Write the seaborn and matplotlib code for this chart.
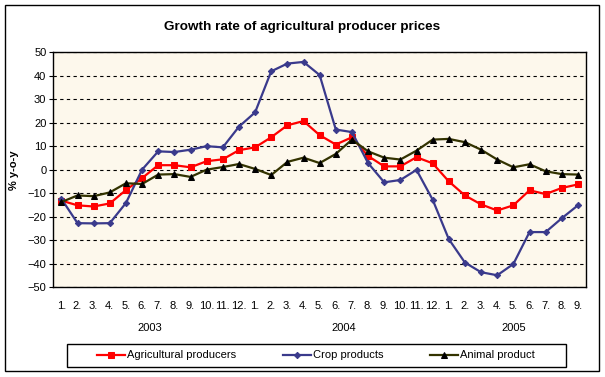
import pandas as pd
import numpy as np
import matplotlib.pyplot as plt
import matplotlib.transforms as mtransforms
from matplotlib.patches import Rectangle
import seaborn as sns

# Monthly data Jan 2003 - Sep 2005, growth rate % y-o-y
months = [f"{m}." for m in range(1, 13)] * 2 + [f"{m}." for m in range(1, 10)]
years = ["2003", "2004", "2005"]
year_centers = [5.5, 17.5, 28]

agri = [-13.2, -15.2, -15.7, -14.4, -8.7, -3.6, 1.9, 1.9, 1.0, 3.6, 4.4, 8.3,
        9.5, 13.8, 18.9, 20.7, 14.7, 10.7, 13.8, 5.8, 1.4, 1.4, 5.3, 2.7,
        -5.0, -11.0, -14.8, -17.4, -15.2, -8.8, -10.4, -7.8, -6.3]
crop = [-12.4, -22.8, -22.9, -22.8, -14.2, 0.0, 7.8, 7.5, 8.5, 10.0, 9.5, 18.3,
        24.4, 41.9, 45.2, 45.9, 40.3, 17.1, 16.0, 2.8, -5.4, -4.4, -0.1, -12.8,
        -29.6, -39.6, -43.7, -45.0, -40.2, -26.6, -26.6, -20.7, -15.2]
animal = [-13.8, -11.0, -11.3, -9.7, -5.8, -6.1, -2.1, -1.9, -3.1, 0.0, 1.1, 2.4,
          0.3, -2.3, 3.3, 5.1, 2.8, 6.7, 12.8, 7.8, 5.1, 4.3, 8.1, 12.8,
          13.1, 11.7, 8.5, 4.3, 1.0, 2.3, -0.7, -1.9, -2.1]

idx = np.arange(len(months))
df = pd.DataFrame({"i": idx, "agri": agri, "crop": crop, "animal": animal})

plt.rcParams['font.family'] = ['Liberation Sans', 'DejaVu Sans']

fig = plt.figure(figsize=(6.05, 3.77), dpi=100)
ax = fig.add_axes([53.3 / 605, 1 - 287 / 377, (586 - 53.3) / 605, (287 - 52.3) / 377])
ax.set_facecolor('#FDF8EC')

# series: label, column, color, marker, marker color, size
series = [
    ("Agricultural producers", "agri", "#FF0000", "s", "#FF0000", 4.5),
    ("Crop products", "crop", "#3A3A8C", "D", "#3A3A8C", 3.2),
    ("Animal product", "animal", "#333300", "^", "#000000", 5.0),
]
for label, col, color, mk, mcol, ms in series:
    sns.lineplot(data=df, x="i", y=col, ax=ax, color=color, linewidth=1.6,
                 marker=mk, markersize=ms, markerfacecolor=mcol,
                 markeredgecolor=mcol, label=label, sort=False)

ax.set_xlim(-0.5, 32.5)
ax.set_ylim(-50, 50)
ax.set_yticks(range(-50, 51, 10))
ax.set_xticks(idx)
ax.set_xticklabels(months)
ax.tick_params(axis='x', length=0, pad=10, labelsize=8)
ax.tick_params(axis='y', direction='out', length=3, width=0.8, pad=2, labelsize=8)
ax.yaxis.grid(True, color='black', linestyle=(0, (3, 3)), linewidth=0.8)
ax.set_axisbelow(True)
for s in ax.spines.values():
    s.set_color('black')
    s.set_linewidth(1)
ax.set_xlabel('')
ax.set_ylabel('')
ax.get_legend().remove()

# year labels under month labels
trans = mtransforms.blended_transform_factory(ax.transData, fig.transFigure)
for yr, xc in zip(years, year_centers):
    ax.text(xc, 1 - 328 / 377, yr, transform=trans, ha='center', va='center', fontsize=8)

fig.text(14 / 605, 1 - 170 / 377, "% y-o-y", rotation=90, ha='center', va='center',
         fontsize=8, fontweight='bold')
fig.text(0.5, 1 - 27 / 377, "Growth rate of agricultural producer prices",
         ha='center', va='center', fontsize=9.7, fontweight='bold')

# legend: entries without frame, box drawn separately
handles, labels = ax.get_legend_handles_labels()
fig.legend(handles, labels, loc='center', ncol=3,
           bbox_to_anchor=(316 / 605, 1 - 355.5 / 377),
           borderaxespad=0, frameon=False, fontsize=8,
           handlelength=2.5, handletextpad=0.2, columnspacing=4.2)
fig.add_artist(Rectangle((67 / 605, 1 - 367 / 377), 499 / 605, 23 / 377,
                         transform=fig.transFigure, fill=False, edgecolor='black', linewidth=1))

# outer chart border
fig.add_artist(Rectangle((5 / 605, 1 - 371 / 377), 594 / 605, 366 / 377,
                         transform=fig.transFigure, fill=False, edgecolor='black', linewidth=1))

plt.savefig('out.png', dpi=100)
plt.close()
